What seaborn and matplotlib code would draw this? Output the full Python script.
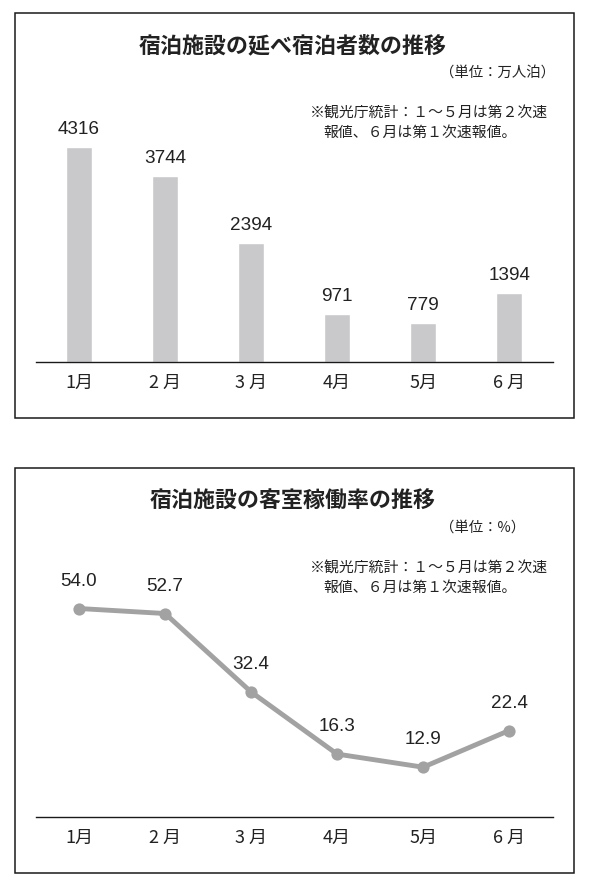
import numpy as np
import pandas as pd
import matplotlib
matplotlib.use("Agg")
import matplotlib.pyplot as plt
from matplotlib.patches import Rectangle
import seaborn as sns

# ---- data ----
months = ["1月", "2 月", "3 月", "4月", "5月", "6 月"]
guests = [4316, 3744, 2394, 971, 779, 1394]          # 万人泊
occupancy = [54.0, 52.7, 32.4, 16.3, 12.9, 22.4]     # %
title_top = "宿泊施設の延べ宿泊者数の推移"
title_bottom = "宿泊施設の客室稼働率の推移"
unit_top = "（単位：万人泊）"
unit_bottom = "（単位：%）"
note_line1 = "※観光庁統計：１～５月は第２次速"
note_line2 = "報値、６月は第１次速報値。"

sns.set_theme(style="white")
plt.rcParams["font.family"] = ["Noto Sans CJK JP", "DejaVu Sans"]

W, H = 589, 885
fig = plt.figure(figsize=(W / 100, H / 100), dpi=100)
fig.patch.set_facecolor("white")

def fx(x):
    return x / W

def fy(y):
    return 1 - y / H

TXT = "#222222"
BAR = "#c9c9cb"
LINE = "#a2a2a2"
NUMFONT = ["Liberation Sans", "DejaVu Sans"]

def panel(offset, title, unit):
    # border
    x0, x1 = 15.3, 574.3
    y0, y1 = 13.3 + offset, 418.3 + offset
    fig.patches.append(Rectangle((fx(x0), fy(y1)), fx(x1) - fx(x0), fy(y0) - fy(y1),
                                 transform=fig.transFigure, fill=False,
                                 edgecolor="#1a1a1a", linewidth=1.1))
    fig.text(fx(293), fy(46 + offset), title, ha="center", va="center",
             fontsize=15.8, fontweight="bold", color=TXT)
    fig.text(fx(440), fy(73 + offset), unit, ha="left", va="center",
             fontsize=10.4, color=TXT)
    fig.text(fx(310), fy(114 + offset), note_line1, ha="left", va="center",
             fontsize=10.7, color=TXT)
    fig.text(fx(323), fy(133 + offset), note_line2, ha="left", va="center",
             fontsize=10.7, color=TXT)
    # plotting axes: x 36..553, y (100..362)+offset
    ax = fig.add_axes([fx(36), fy(362 + offset), fx(553) - fx(36), (262) / H])
    ax.set_facecolor("none")
    for s in ["top", "left", "right"]:
        ax.spines[s].set_visible(False)
    ax.spines["bottom"].set_color("#1a1a1a")
    ax.spines["bottom"].set_linewidth(1.0)
    ax.tick_params(axis="x", length=0, pad=8.5, labelsize=13, colors=TXT)
    ax.tick_params(axis="y", left=False, labelleft=False)
    ax.set_xlabel("")
    ax.set_ylabel("")
    return ax

# ---- top: bar chart ----
ax1 = panel(0, title_top, unit_top)
df1 = pd.DataFrame({"month": months, "value": guests})
sns.barplot(data=df1, x="month", y="value", ax=ax1, color=BAR, width=0.31,
            saturation=1, order=months)
ax1.set_xlim(-0.5, 5.51)
ax1.set_ylim(0, 262 / 0.04975)
ax1.set_xlabel("")
ax1.set_ylabel("")
ax1.set_yticks([])
for i, v in enumerate(guests):
    ax1.annotate(f"{v}", (i, v), xytext=(0, 9.4), textcoords="offset points",
                 ha="center", va="baseline", fontsize=13.6, color=TXT,
                 family=NUMFONT)

# ---- bottom: line chart ----
ax2 = panel(455, title_bottom, unit_bottom)
pos = np.arange(len(months))
sns.lineplot(x=pos, y=occupancy, ax=ax2, color=LINE, linewidth=3.5,
             marker="o", markersize=8.8, markeredgewidth=0, markerfacecolor=LINE)
ax2.set_xlim(-0.5, 5.51)
ax2.set_ylim(0, 262 / 3.861)
ax2.set_xticks(pos)
ax2.set_xticklabels(months)
ax2.set_yticks([])
ax2.set_xlabel("")
ax2.set_ylabel("")
for i, v in enumerate(occupancy):
    ax2.annotate(f"{v:.1f}", (i, v), xytext=(0, 16.5), textcoords="offset points",
                 ha="center", va="baseline", fontsize=13.6, color=TXT,
                 family=NUMFONT)

fig.savefig("out.png", dpi=100, facecolor="white")
